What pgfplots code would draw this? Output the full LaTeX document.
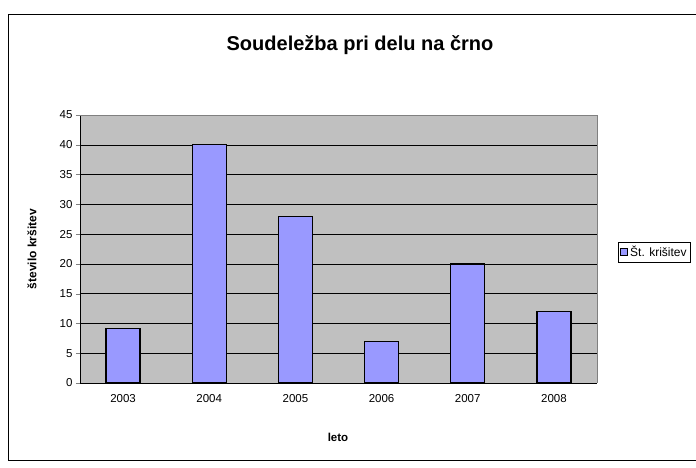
\documentclass[border=0pt]{standalone}
\usepackage{pgfplots}
\pgfplotsset{compat=1.18}
\usepackage{fontspec}
\setmainfont{Liberation Sans}
\definecolor{barblue}{HTML}{9999FF}
\definecolor{plotgray}{HTML}{C0C0C0}
\begin{document}
\begin{tikzpicture}[x=1pt,y=1pt]
\useasboundingbox (0,0) rectangle (696,467);
\draw[black, line width=0.8pt] (8,7) rectangle (700,453);
\begin{axis}[
  at={(80pt,84pt)}, anchor=south west,
  scale only axis, width=517pt, height=268pt,
  xmin=-0.5, xmax=5.5, ymin=0, ymax=45,
  axis background/.style={fill=plotgray},
  ybar, bar width=34pt, bar shift=0pt,
  xtick={0,1,2,3,4,5},
  xticklabels={2003,2004,2005,2006,2007,2008},
  major x tick style={draw=none},
  extra x ticks={-0.5,0.5,1.5,2.5,3.5,4.5,5.5},
  extra x tick labels={},
  extra x tick style={major tick length=5pt, tick style={black, draw=black}, tick align=outside, grid=none},
  ytick={0,5,...,45},
  ymajorgrids, grid style={black, line width=0.5pt},
  tick align=outside, major tick length=4pt,
  axis x line*=bottom, axis y line*=left,
  x axis line style={-}, y axis line style={-},
  tick label style={font=\fontsize{11.5}{13}\selectfont},
  /pgf/number format/assume math mode=true,
  xticklabel style={yshift=-4pt},
  every axis y label/.style={at={(axis description cs:-0.093,0.5)}, rotate=90, anchor=center, font=\bfseries\fontsize{12}{14}\selectfont},
  every axis x label/.style={at={(axis description cs:0.499,-0.2015)}, anchor=center, font=\bfseries\fontsize{11.5}{13}\selectfont},
  ylabel={število kršitev},
  xlabel={leto},
  legend style={at={(axis description cs:1.0406,0.489)}, anchor=west, draw=black, font=\fontsize{12}{14}\selectfont, inner sep=2pt, row sep=0pt},
  legend image code/.code={\draw[fill=barblue, draw=black, line width=1pt] (0pt,-3.5pt) rectangle (7pt,3.5pt);},
  clip=false,
]
\addplot[fill=barblue, draw=black, line width=1.4pt] coordinates {(0,9.2) (1,40) (2,28) (3,7) (4,20) (5,12)};
\addlegendentry{Št. krišitev}
\draw[gray] (rel axis cs:0,1) -- (rel axis cs:1,1) -- (rel axis cs:1,0);
\node[font=\bfseries\fontsize{20}{24}\selectfont] at (axis description cs:0.5416,1.261) {Soudeležba pri delu na črno};
\end{axis}
\end{tikzpicture}
\end{document}
